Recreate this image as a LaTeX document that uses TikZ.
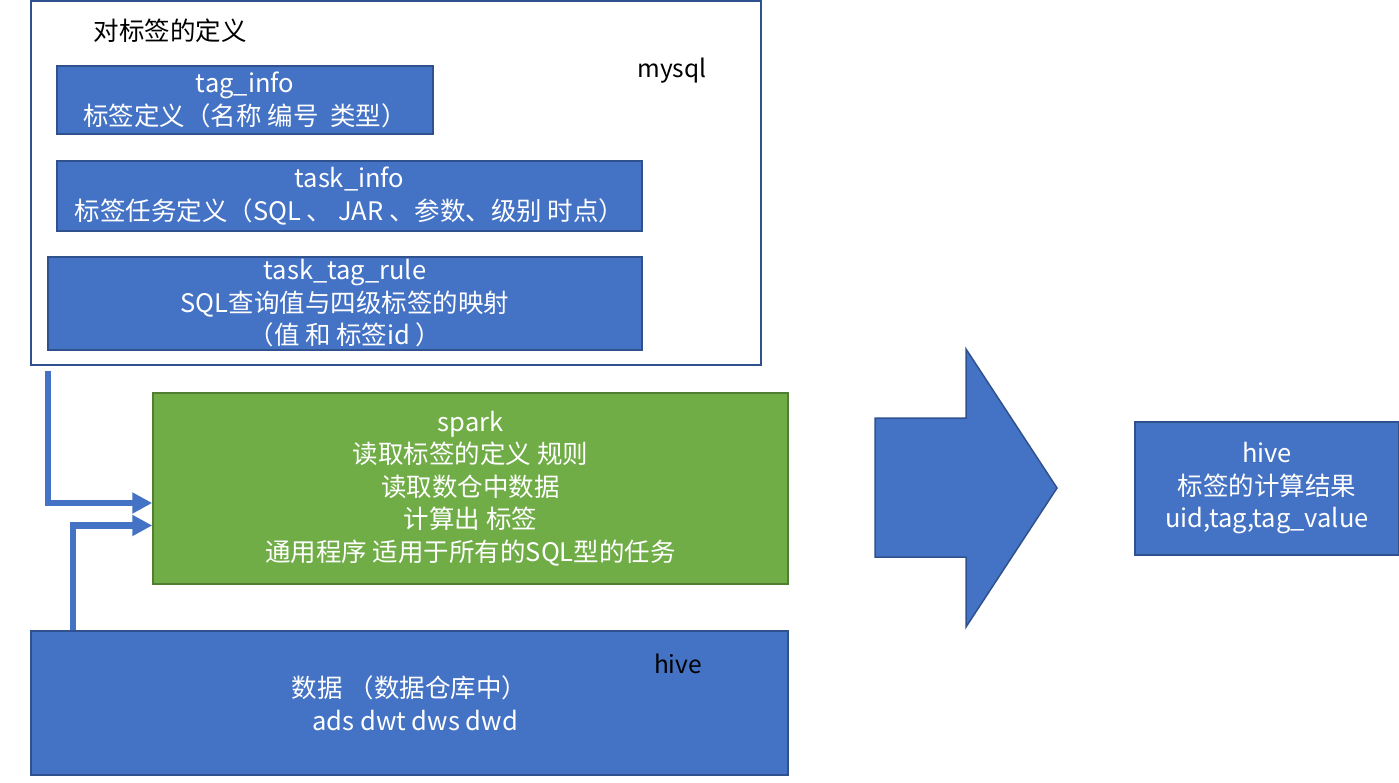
\documentclass[tikz,border=0pt]{standalone}
\usepackage{fontspec}
\setmainfont{Noto Sans CJK SC}
\usetikzlibrary{arrows.meta,calc}
\definecolor{blu}{HTML}{4472C4}
\definecolor{bdr}{HTML}{2F528F}
\definecolor{grn}{HTML}{70AD47}
\definecolor{gbdr}{HTML}{507E32}
\newcommand{\fsz}{\fontsize{25.5}{32.5}\selectfont}
\newcommand{\lsz}{\fontsize{24.5}{28}\selectfont}
\begin{document}
\begin{tikzpicture}[x=1pt,y=-1pt,
  box/.style={draw=bdr, fill=blu, line width=1.5pt, text=white, align=center, inner sep=0pt, font=\fsz},
  greenbox/.style={box, draw=gbdr, fill=grn},
  plainlabel/.style={inner sep=0pt, text=black, font=\lsz},
  conn/.style={draw=blu, line width=6.5pt, -{Triangle[length=20pt,width=20pt]}}]
\useasboundingbox (0,0) rectangle (1399,783);
% mysql container
\node[draw=bdr, fill=white, line width=1.5pt, minimum width=730pt, minimum height=364pt, inner sep=0pt] (mysql) at (396,183) {};
\node[plainlabel, font=\fsz] (title) at (170,31) {对标签的定义};
\node[plainlabel] (mysqllbl) at (672,71) {mysql};
\node[box, minimum width=376pt, minimum height=68pt] (taginfo) at (245,100) {tag\_info\\标签定义（名称 编号 \ 类型）};
\node[box, minimum width=585pt, minimum height=70pt] (taskinfo) at (349.5,196) {task\_info\\标签任务定义（SQL 、 JAR 、参数、级别 时点）};
\node[box, minimum width=594pt, minimum height=93pt] (rule) at (345,303.5) {task\_tag\_rule\\SQL查询值与四级标签的映射\\（值 和 标签id ）};
% spark
\node[greenbox, minimum width=635pt, minimum height=191pt] (spark) at (470.5,488.5) {spark\\读取标签的定义 规则\\读取数仓中数据\\计算出 标签\\通用程序 适用于所有的SQL型的任务};
% hive data
\node[box, minimum width=757pt, minimum height=144pt] (data) at (409.5,703) {数据 （数据仓库中）\\ \ \ ads dwt dws dwd};
\node[plainlabel] (hivelbl) at (678,664) {hive};
% result
\node[box, minimum width=264pt, minimum height=133pt] (result) at (1267,488.5) {hive\\标签的计算结果\\uid,tag,tag\_value};
% big arrow
\draw[draw=bdr, fill=blu, line width=1.5pt, line join=miter]
  (875,418) -- (966,418) -- (966,349) -- (1057,488) -- (966,627) -- (966,557) -- (875,557) -- cycle;
% connectors
\coordinate (c1) at ($(mysql.south west)+(17.5,5)$);
\coordinate (c2) at ($(data.north west)+(42.5,0)$);
\draw[conn] (c1) |- ($(spark.west)+(0,14.5)$);
\draw[conn] (c2) |- ($(spark.west)+(0,37)$);
\end{tikzpicture}
\end{document}
